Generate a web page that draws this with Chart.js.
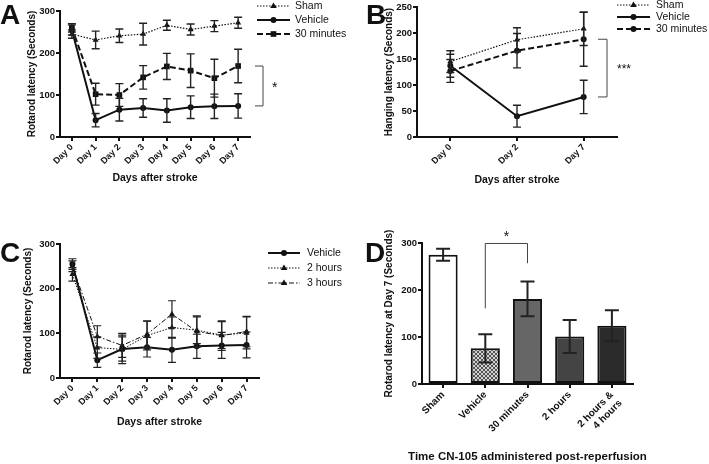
<!DOCTYPE html>
<html>
<head>
<meta charset="utf-8">
<script src="https://cdn.jsdelivr.net/npm/chart.js@4/dist/chart.umd.min.js"></script>
<style>
  html, body { margin: 0; padding: 0; background: #fff; }
  body { width: 709px; height: 464px; position: relative; overflow: hidden; }
  canvas { position: absolute; }
</style>
</head>
<body>
<canvas id="panelA" width="360" height="225" style="left:0;top:0"></canvas>
<canvas id="panelB" width="354" height="225" style="left:355px;top:0"></canvas>
<canvas id="panelC" width="360" height="239" style="left:0;top:225px"></canvas>
<canvas id="panelD" width="354" height="239" style="left:355px;top:225px"></canvas>
<script>
const FONT = "'Liberation Sans', Arial, Helvetica, sans-serif";
Chart.defaults.font.family = FONT;
Chart.defaults.color = '#111';

// ---- data ----
const days = ['Day 0', 'Day 1', 'Day 2', 'Day 3', 'Day 4', 'Day 5', 'Day 6', 'Day 7'];
const daysB = ['Day 0', 'Day 2', 'Day 7'];
const groupsD = ['Sham', 'Vehicle', '30 minutes', '2 hours', ['2 hours &', '4 hours']];

// A: rotarod
const shamA = [245, 231, 241, 245, 266, 256, 264, 272];
const shamAErr = [10, 21, 16, 26, 12, 13, 13, 13];
const vehicleA = [255, 40, 65, 69, 63, 71, 73, 74];
const vehicleAErr = [12, 16, 27, 22, 28, 27, 29, 29];
const min30A = [260, 102, 100, 142, 168, 158, 140, 169];
const min30AErr = [10, 26, 27, 28, 31, 40, 45, 40];

// B: hanging
const shamB = [145, 187, 208];
const shamBErr = [21, 23, 32];
const vehicleB = [137, 40, 77];
const vehicleBErr = [22, 21, 32];
const min30B = [127, 166, 188];
const min30BErr = [22, 33, 52];

// C: later time points
const twoH = [232, 68, 64, 95, 113, 107, 96, 101];
const twoHErr = [15, 24, 32, 32, 24, 30, 30, 36];
const threeH = [250, 93, 73, 98, 143, 104, 95, 104];
const threeHErr = [12, 24, 27, 30, 30, 35, 33, 34];

// D: day 7 rotarod
const day7 = [275, 76, 181, 101, 124];
const day7Err = [13, 30, 37, 35, 33];

// ---- helpers ----
const INK = '#111';

function drawMarker(ctx, style, x, y, r) {
  ctx.beginPath();
  if (style === 'triangle') {
    ctx.moveTo(x, y - r);
    ctx.lineTo(x + r * 0.95, y + r * 0.6);
    ctx.lineTo(x - r * 0.95, y + r * 0.6);
    ctx.closePath();
  } else if (style === 'rect') {
    const s = r * Math.SQRT1_2;
    ctx.rect(x - s, y - s, 2 * s, 2 * s);
  } else {
    ctx.arc(x, y, r, 0, Math.PI * 2);
  }
  ctx.fill();
}

const errorBars = {
  id: 'errorBars',
  afterDatasetsDraw(chart, args, opts) {
    const ctx = chart.ctx, y = chart.scales.y;
    chart.data.datasets.forEach((ds, i) => {
      if (!ds.errors) return;
      const meta = chart.getDatasetMeta(i);
      ctx.save();
      ctx.strokeStyle = opts.color;
      ctx.lineWidth = opts.width;
      ctx.setLineDash([]);
      meta.data.forEach((el, j) => {
        const v = ds.data[j], e = ds.errors[j];
        const top = y.getPixelForValue(v + e), bot = y.getPixelForValue(v - e);
        const x = el.x, c = opts.cap;
        ctx.beginPath();
        ctx.moveTo(x, top); ctx.lineTo(x, bot);
        ctx.moveTo(x - c, top); ctx.lineTo(x + c, top);
        ctx.moveTo(x - c, bot); ctx.lineTo(x + c, bot);
        ctx.stroke();
      });
      ctx.restore();
    });
  }
};

const decor = {
  id: 'decor',
  afterDraw(chart, args, o) {
    const ctx = chart.ctx, area = chart.chartArea, y = chart.scales.y;
    ctx.save();
    ctx.fillStyle = INK;
    ctx.strokeStyle = INK;

    // panel letter
    ctx.font = `bold 28px ${FONT}`;
    ctx.textAlign = 'left';
    ctx.textBaseline = 'alphabetic';
    ctx.fillText(o.letter, o.letterX, o.letterY);

    // axis titles
    ctx.textAlign = 'center';
    ctx.textBaseline = 'middle';
    ctx.font = `bold 10px ${FONT}`;
    ctx.save();
    ctx.translate(o.yTitleX, (area.top + area.bottom) / 2);
    ctx.rotate(-Math.PI / 2);
    ctx.fillText(o.yTitle, 0, 0);
    ctx.restore();
    ctx.font = `bold ${o.xTitleSize}px ${FONT}`;
    ctx.fillText(o.xTitle, (area.left + area.right) / 2, o.xTitleY);

    // legend
    if (o.legend) {
      const L = o.legend;
      chart.data.datasets.forEach((ds, i) => {
        const ly = L.y + i * L.gap;
        ctx.save();
        ctx.lineWidth = ds.borderWidth;
        ctx.setLineDash(ds.borderDash || []);
        ctx.beginPath();
        ctx.moveTo(L.x1, ly); ctx.lineTo(L.x2, ly);
        ctx.stroke();
        ctx.setLineDash([]);
        drawMarker(ctx, ds.pointStyle, (L.x1 + L.x2) / 2, ly, ds.pointRadius);
        ctx.font = `10.5px ${FONT}`;
        ctx.textAlign = 'left';
        ctx.fillText(ds.label, L.tx, ly);
        ctx.restore();
      });
    }

    // significance bracket on the right side
    if (o.bracket) {
      const b = o.bracket;
      const yt = y.getPixelForValue(b.top), yb = y.getPixelForValue(b.bottom);
      ctx.lineWidth = 1;
      ctx.strokeStyle = '#444';
      ctx.beginPath();
      ctx.moveTo(b.x - b.tick, yt); ctx.lineTo(b.x, yt);
      ctx.lineTo(b.x, yb); ctx.lineTo(b.x - b.tick, yb);
      ctx.stroke();
      ctx.font = `${b.starSize}px ${FONT}`;
      ctx.textAlign = 'left';
      ctx.fillText(b.star, b.starX, (yt + yb) / 2 + b.starDy);
    }

    // bracket between two bars
    if (o.pair) {
      const p = o.pair, meta = chart.getDatasetMeta(0);
      const xl = meta.data[p.left].x, xr = meta.data[p.right].x;
      const yt = y.getPixelForValue(p.top);
      ctx.lineWidth = 1;
      ctx.strokeStyle = '#444';
      ctx.beginPath();
      ctx.moveTo(xl, y.getPixelForValue(p.leftFrom)); ctx.lineTo(xl, yt);
      ctx.lineTo(xr, yt); ctx.lineTo(xr, y.getPixelForValue(p.rightFrom));
      ctx.stroke();
      ctx.font = `14px ${FONT}`;
      ctx.fillText('*', (xl + xr) / 2, yt - 6);
    }
    ctx.restore();
  }
};

function axisGrid() {
  return { display: true, drawOnChartArea: false, drawTicks: true, tickLength: 4, color: INK, lineWidth: 2, offset: false };
}

function axes(g) {
  return {
    x: {
      offset: true,
      grid: axisGrid(),
      border: { display: true, color: INK, width: 2 },
      ticks: { font: { size: g.xFont, weight: 'bold' }, color: INK, minRotation: 45, maxRotation: 45, padding: 1, autoSkip: false },
      afterFit: s => { s.height = g.xH; }
    },
    y: {
      min: 0, max: g.yMax,
      grid: axisGrid(),
      border: { display: true, color: INK, width: 2 },
      ticks: { stepSize: g.step, font: { size: 9.5, weight: 'bold' }, color: INK, padding: 1 },
      afterFit: s => { s.width = g.yW; }
    }
  };
}

function lineSet(label, data, errors, style) {
  return Object.assign({
    label, data, errors,
    borderColor: INK, backgroundColor: INK,
    pointBackgroundColor: INK, pointBorderColor: INK, pointBorderWidth: 0,
    tension: 0, clip: false
  }, style);
}

const sham = { borderDash: [1.5, 1.5], borderWidth: 1.2, pointStyle: 'triangle', pointRadius: 3.5 };
const veh = { borderDash: [], borderWidth: 2, pointStyle: 'circle', pointRadius: 3 };
const dashSq = { borderDash: [6, 3], borderWidth: 2, pointStyle: 'rect', pointRadius: 4 };
const dashCi = { borderDash: [6, 3], borderWidth: 2, pointStyle: 'circle', pointRadius: 3 };
const dotTri = { borderDash: [1.5, 1.5], borderWidth: 1, pointStyle: 'triangle', pointRadius: 3.5 };
const dashDotTri = { borderDash: [5, 2, 1.5, 2], borderWidth: 1, pointStyle: 'triangle', pointRadius: 3.5 };

function baseOptions(g, deco) {
  return {
    responsive: false,
    animation: false,
    events: [],
    layout: { padding: g.pad },
    scales: axes(g),
    plugins: {
      legend: { display: false },
      tooltip: { enabled: false },
      errorBars: { color: '#222', width: g.errW, cap: g.cap },
      decor: deco
    }
  };
}

// ---- A ----
new Chart(document.getElementById('panelA'), {
  type: 'line',
  data: {
    labels: days,
    datasets: [
      lineSet('Sham', shamA, shamAErr, sham),
      lineSet('Vehicle', vehicleA, vehicleAErr, veh),
      lineSet('30 minutes', min30A, min30AErr, dashSq)
    ]
  },
  options: baseOptions(
    { pad: { left: 0, top: 11, right: 110, bottom: 0 }, xH: 88, yW: 60, yMax: 300, step: 100, xFont: 9, errW: 1.4, cap: 4 },
    {
      letter: 'A', letterX: 0, letterY: 24,
      yTitle: 'Rotarod latency (Seconds)', yTitleX: 32,
      xTitle: 'Days after stroke', xTitleY: 178, xTitleSize: 10.5,
      legend: { x1: 257, x2: 290, tx: 295, y: 6, gap: 14 },
      bracket: { x: 263, tick: 8, top: min30A[7], bottom: vehicleA[7], star: '*', starX: 272, starDy: 2, starSize: 14 }
    }
  ),
  plugins: [errorBars, decor]
});

// ---- B ----
new Chart(document.getElementById('panelB'), {
  type: 'line',
  data: {
    labels: daysB,
    datasets: [
      lineSet('Sham', shamB, shamBErr, sham),
      lineSet('Vehicle', vehicleB, vehicleBErr, veh),
      lineSet('30 minutes', min30B, min30BErr, dashCi)
    ]
  },
  options: baseOptions(
    { pad: { left: 0, top: 7, right: 92, bottom: 0 }, xH: 88, yW: 62, yMax: 250, step: 50, xFont: 9, errW: 1.4, cap: 4 },
    {
      letter: 'B', letterX: 11, letterY: 24,
      yTitle: 'Hanging latency (Seconds)', yTitleX: 34,
      xTitle: 'Days after stroke', xTitleY: 180, xTitleSize: 10.5,
      legend: { x1: 262, x2: 295, tx: 301, y: 5, gap: 12 },
      bracket: { x: 252, tick: 9, top: min30B[2], bottom: vehicleB[2], star: '***', starX: 262, starDy: 2, starSize: 12 }
    }
  ),
  plugins: [errorBars, decor]
});

// ---- C ----
new Chart(document.getElementById('panelC'), {
  type: 'line',
  data: {
    labels: days,
    datasets: [
      lineSet('Vehicle', vehicleA, vehicleAErr, veh),
      lineSet('2 hours', twoH, twoHErr, dotTri),
      lineSet('3 hours', threeH, threeHErr, dashDotTri)
    ]
  },
  options: baseOptions(
    { pad: { left: 0, top: 19, right: 101, bottom: 0 }, xH: 86, yW: 60, yMax: 300, step: 100, xFont: 9, errW: 1.2, cap: 4 },
    {
      letter: 'C', letterX: 0, letterY: 37,
      yTitle: 'Rotarod latency (Seconds)', yTitleX: 28,
      xTitle: 'Days after stroke', xTitleY: 197, xTitleSize: 10.5,
      legend: { x1: 268, x2: 300, tx: 307, y: 28, gap: 15 }
    }
  ),
  plugins: [errorBars, decor]
});

// ---- D ----
const pc = document.createElement('canvas');
pc.width = 4; pc.height = 4;
const pctx = pc.getContext('2d');
pctx.fillStyle = '#d0d0d0'; pctx.fillRect(0, 0, 4, 4);
pctx.fillStyle = '#555'; pctx.fillRect(0, 0, 2, 2); pctx.fillRect(2, 2, 2, 2);
const checker = pctx.createPattern(pc, 'repeat');

new Chart(document.getElementById('panelD'), {
  type: 'bar',
  data: {
    labels: groupsD,
    datasets: [{
      label: 'Day 7',
      data: day7,
      errors: day7Err,
      backgroundColor: ['#ffffff', checker, '#666666', '#444444', '#2b2b2b'],
      borderColor: INK,
      borderWidth: 2,
      borderSkipped: false,
      barPercentage: 0.69,
      categoryPercentage: 1
    }]
  },
  options: baseOptions(
    { pad: { left: 0, top: 18, right: 76, bottom: 0 }, xH: 80, yW: 67, yMax: 300, step: 100, xFont: 10, errW: 2, cap: 7 },
    {
      letter: 'D', letterX: 10, letterY: 37,
      yTitle: 'Rotarod latency at Day 7 (Seconds)', yTitleX: 34,
      xTitle: 'Time CN-105 administered post-reperfusion', xTitleY: 232, xTitleSize: 11.5,
      pair: { left: 1, right: 2, leftFrom: 161, rightFrom: 257, top: 299 }
    }
  ),
  plugins: [errorBars, decor]
});
</script>
</body>
</html>
